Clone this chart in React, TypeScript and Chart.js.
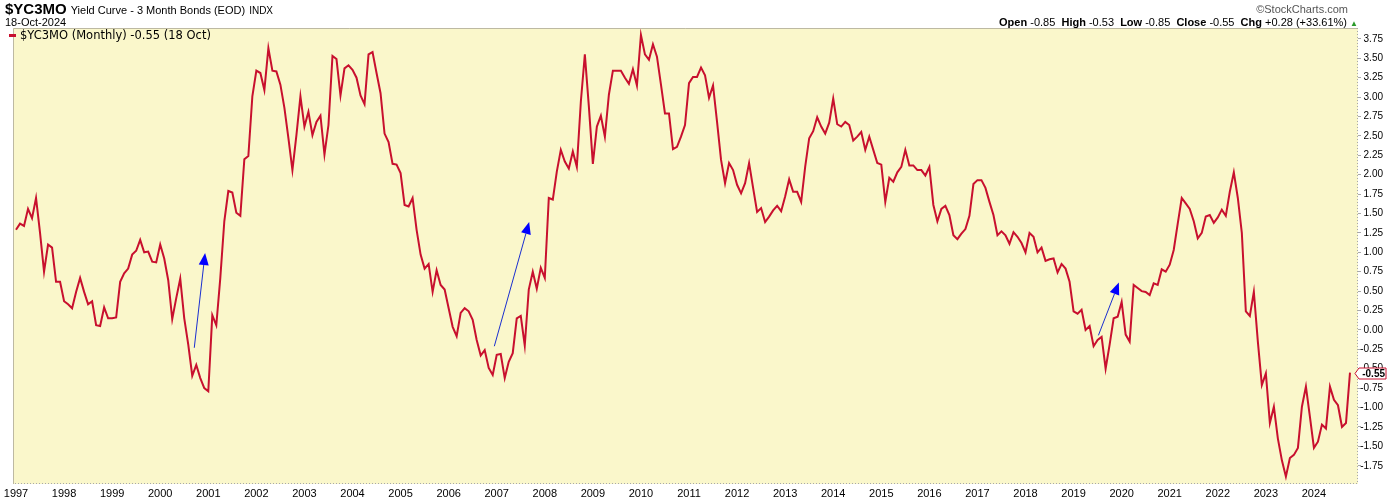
import React, { useEffect, useRef } from "react";
import { Chart, registerables } from "chart.js";

Chart.register(...registerables);

// ---- data (monthly close, Jan 1997 .. Oct 2024) ----
const yearLabels = [
  "1997", "1998", "1999", "2000", "2001", "2002", "2003", "2004", "2005", "2006",
  "2007", "2008", "2009", "2010", "2011", "2012", "2013", "2014", "2015", "2016",
  "2017", "2018", "2019", "2020", "2021", "2022", "2023", "2024",
];

const v1997 = [1.29, 1.37, 1.34, 1.56, 1.44, 1.70, 1.25, 0.75, 1.10, 1.06, 0.62, 0.62];
const v1998 = [0.37, 0.33, 0.28, 0.49, 0.67, 0.49, 0.33, 0.37, 0.06, 0.05, 0.29, 0.15];
const v1999 = [0.15, 0.16, 0.62, 0.73, 0.79, 0.97, 1.02, 1.16, 1.00, 1.01, 0.88, 0.87];
const v2000 = [1.10, 0.92, 0.64, 0.14, 0.41, 0.66, 0.15, -0.19, -0.59, -0.45, -0.62, -0.75];
const v2001 = [-0.79, 0.19, 0.06, 0.67, 1.40, 1.79, 1.77, 1.51, 1.47, 2.20, 2.24, 3.01];
const v2002 = [3.34, 3.31, 3.09, 3.63, 3.34, 3.33, 3.16, 2.86, 2.47, 2.06, 2.51, 3.01];
const v2003 = [2.62, 2.81, 2.51, 2.68, 2.76, 2.26, 2.64, 3.53, 3.49, 3.02, 3.37, 3.41];
const v2004 = [3.35, 3.25, 3.02, 2.91, 3.55, 3.58, 3.31, 3.05, 2.53, 2.42, 2.14, 2.13];
const v2005 = [2.02, 1.61, 1.59, 1.70, 1.29, 0.97, 0.79, 0.85, 0.49, 0.77, 0.58, 0.52];
const v2006 = [0.28, 0.04, -0.08, 0.22, 0.28, 0.24, 0.13, -0.13, -0.33, -0.26, -0.49, -0.58];
const v2007 = [-0.32, -0.31, -0.62, -0.41, -0.30, 0.15, 0.18, -0.20, 0.52, 0.75, 0.53, 0.80];
const v2008 = [0.67, 1.70, 1.68, 2.04, 2.32, 2.17, 2.08, 2.30, 2.10, 2.94, 3.55, 2.88];
const v2009 = [2.14, 2.62, 2.76, 2.49, 3.03, 3.34, 3.34, 3.34, 3.25, 3.17, 3.36, 3.15];
const v2010 = [3.80, 3.55, 3.48, 3.68, 3.52, 3.16, 2.79, 2.79, 2.33, 2.36, 2.49, 2.64];
const v2011 = [3.18, 3.26, 3.26, 3.38, 3.28, 2.99, 3.15, 2.68, 2.19, 1.89, 2.15, 2.06];
const v2012 = [1.87, 1.76, 1.89, 2.15, 1.83, 1.52, 1.57, 1.39, 1.46, 1.54, 1.60, 1.53];
const v2013 = [1.72, 1.94, 1.78, 1.78, 1.65, 2.10, 2.47, 2.56, 2.74, 2.62, 2.53, 2.67];
const v2014 = [2.98, 2.65, 2.62, 2.68, 2.64, 2.44, 2.49, 2.55, 2.32, 2.49, 2.32, 2.15];
const v2015 = [2.13, 1.65, 1.96, 1.91, 2.03, 2.10, 2.32, 2.12, 2.12, 2.06, 2.06, 1.99];
const v2016 = [2.10, 1.61, 1.40, 1.56, 1.60, 1.48, 1.22, 1.17, 1.24, 1.30, 1.47, 1.88];
const v2017 = [1.93, 1.93, 1.83, 1.65, 1.48, 1.22, 1.27, 1.22, 1.11, 1.26, 1.20, 1.12];
const v2018 = [1.00, 1.25, 1.20, 1.00, 1.06, 0.89, 0.91, 0.92, 0.74, 0.85, 0.79, 0.62];
const v2019 = [0.24, 0.21, 0.26, 0.00, 0.05, -0.21, -0.13, -0.09, -0.50, -0.19, 0.15, 0.17];
const v2020 = [0.36, -0.06, -0.15, 0.58, 0.54, 0.50, 0.49, 0.45, 0.60, 0.58, 0.78, 0.75];
const v2021 = [0.84, 1.03, 1.37, 1.70, 1.63, 1.56, 1.40, 1.18, 1.25, 1.46, 1.48, 1.38];
const v2022 = [1.45, 1.55, 1.47, 1.78, 2.03, 1.70, 1.25, 0.24, 0.18, 0.49, -0.15, -0.71];
const v2023 = [-0.56, -1.20, -0.99, -1.40, -1.68, -1.89, -1.65, -1.61, -1.52, -0.99, -0.73, -1.12];
const v2024 = [-1.52, -1.44, -1.22, -1.27, -0.73, -0.90, -0.97, -1.25, -1.20, -0.55];

const monthlyValues = [
  ...v1997, ...v1998, ...v1999, ...v2000, ...v2001, ...v2002, ...v2003,
  ...v2004, ...v2005, ...v2006, ...v2007, ...v2008, ...v2009, ...v2010,
  ...v2011, ...v2012, ...v2013, ...v2014, ...v2015, ...v2016, ...v2017,
  ...v2018, ...v2019, ...v2020, ...v2021, ...v2022, ...v2023, ...v2024,
];

const yTickValues = [
  3.75, 3.5, 3.25, 3.0, 2.75, 2.5, 2.25, 2.0, 1.75, 1.5, 1.25, 1.0, 0.75, 0.5,
  0.25, 0.0, -0.25, -0.5, -0.75, -1.0, -1.25, -1.5, -1.75,
];

// annotation arrows, in (month index, value) units
const arrowFrom = [
  { x: 44.5, y: -0.23 },
  { x: 119.4, y: -0.21 },
  { x: 270.2, y: -0.07 },
];
const arrowTo = [
  { x: 47.2, y: 0.99 },
  { x: 128.1, y: 1.39 },
  { x: 275.3, y: 0.61 },
];

const lastValueLabel = "-0.55";

const LINE_COLOR = "#c8102e";
const PLOT_BG = "#faf7cb";
const FONT = "'Liberation Sans', Arial, sans-serif";

export default function App() {
  const ref = useRef<HTMLCanvasElement>(null);

  useEffect(() => {
    const canvas = ref.current;
    if (!canvas) return;
    const points = monthlyValues.map((v, i) => ({ x: i, y: v }));

    const bgPlugin = {
      id: "plotBg",
      beforeDraw(chart: any) {
        const { ctx, chartArea: a } = chart;
        ctx.save();
        ctx.fillStyle = "#ffffff";
        ctx.fillRect(0, 0, chart.width, chart.height);
        ctx.fillStyle = PLOT_BG;
        ctx.fillRect(a.left, a.top, a.right - a.left, a.bottom - a.top);
        ctx.restore();
      },
    };

    const overlayPlugin = {
      id: "overlay",
      afterDatasetsDraw(chart: any) {
        const { ctx, chartArea: a, scales } = chart;
        const xs = scales.x;
        const ys = scales.y;
        ctx.save();
        // arrows
        ctx.strokeStyle = "#1a2fd0";
        ctx.fillStyle = "#0000ff";
        ctx.lineWidth = 1;
        for (let i = 0; i < arrowFrom.length; i++) {
          const sx = xs.getPixelForValue(arrowFrom[i].x);
          const sy = ys.getPixelForValue(arrowFrom[i].y);
          const tx = xs.getPixelForValue(arrowTo[i].x);
          const ty = ys.getPixelForValue(arrowTo[i].y);
          const ang = Math.atan2(ty - sy, tx - sx);
          const L = 12;
          const W = 5;
          const bx = tx - L * Math.cos(ang);
          const by = ty - L * Math.sin(ang);
          ctx.beginPath();
          ctx.moveTo(sx, sy);
          ctx.lineTo(bx, by);
          ctx.stroke();
          ctx.beginPath();
          ctx.moveTo(tx, ty);
          ctx.lineTo(bx - W * Math.sin(ang), by + W * Math.cos(ang));
          ctx.lineTo(bx + W * Math.sin(ang), by - W * Math.cos(ang));
          ctx.closePath();
          ctx.fill();
        }
        // plot border
        ctx.strokeStyle = "#bdb9a2";
        ctx.beginPath();
        ctx.moveTo(a.left + 0.5, a.bottom);
        ctx.lineTo(a.left + 0.5, a.top + 0.5);
        ctx.lineTo(a.right, a.top + 0.5);
        ctx.stroke();
        ctx.strokeStyle = "#a8a8a8";
        ctx.setLineDash([1, 2]);
        ctx.beginPath();
        ctx.moveTo(a.right - 0.5, a.top);
        ctx.lineTo(a.right - 0.5, a.bottom - 0.5);
        ctx.lineTo(a.left, a.bottom - 0.5);
        ctx.stroke();
        ctx.restore();
      },
      afterDraw(chart: any) {
        const { ctx, chartArea: a, scales } = chart;
        const ys = scales.y;
        const last = monthlyValues[monthlyValues.length - 1];
        const y = Math.round(ys.getPixelForValue(last)) + 0.5;
        const tip = a.right - 3;
        const bl = a.right + 1;
        const br = a.right + 28;
        const h = 5.5;
        ctx.save();
        ctx.beginPath();
        ctx.moveTo(tip, y);
        ctx.lineTo(bl, y - h);
        ctx.lineTo(br, y - h);
        ctx.lineTo(br, y + h);
        ctx.lineTo(bl, y + h);
        ctx.closePath();
        ctx.fillStyle = "#ffffff";
        ctx.fill();
        ctx.strokeStyle = LINE_COLOR;
        ctx.lineWidth = 1;
        ctx.stroke();
        ctx.fillStyle = "#000";
        ctx.font = "bold 10px " + FONT;
        ctx.textAlign = "right";
        ctx.textBaseline = "middle";
        ctx.fillText(lastValueLabel, br - 1, y + 0.5);
        ctx.restore();
      },
    };

    const chart = new Chart(canvas, {
      type: "line",
      data: {
        datasets: [
          {
            label: "$YC3MO (Monthly)",
            data: points,
            borderColor: LINE_COLOR,
            borderWidth: 2,
            pointRadius: 0,
            tension: 0,
            fill: false,
          },
        ],
      },
      options: {
        animation: false,
        responsive: false,
        devicePixelRatio: 1,
        parsing: false as any,
        normalized: true,
        layout: { padding: { left: 13, top: 28, right: 17, bottom: 0 } },
        plugins: {
          legend: { display: false },
          tooltip: { enabled: false },
          title: { display: false },
        },
        scales: {
          x: {
            type: "linear",
            min: -0.75,
            max: 335,
            afterBuildTicks: (s: any) => {
              s.ticks = yearLabels.map((_, i) => ({ value: i * 12 }));
            },
            afterFit: (s: any) => {
              s.height = 16;
            },
            grid: { display: false, drawTicks: false },
            border: { display: false },
            ticks: {
              autoSkip: false,
              maxRotation: 0,
              padding: 3,
              color: "#000",
              font: { size: 11, family: FONT },
              callback: (_v: any, i: number) => yearLabels[i],
            },
          },
          y: {
            position: "right",
            min: -1.985,
            max: 3.89,
            afterBuildTicks: (s: any) => {
              s.ticks = yTickValues.map((v) => ({ value: v }));
            },
            afterFit: (s: any) => {
              s.width = 25;
            },
            grid: {
              display: true,
              drawOnChartArea: false,
              drawTicks: true,
              tickLength: 3,
              color: "#a8a8a8",
            },
            border: { display: false },
            ticks: {
              crossAlign: "far",
              padding: 0,
              color: "#000",
              font: { size: 10, family: FONT },
              callback: (v: any) => Number(v).toFixed(2),
            },
          },
        },
      },
      plugins: [bgPlugin, overlayPlugin],
    } as any);

    return () => chart.destroy();
  }, []);

  return (
    <div
      style={{
        position: "absolute",
        left: 0,
        top: 0,
        width: 1400,
        height: 500,
        background: "#fff",
        fontFamily: FONT,
        color: "#000",
      }}
    >
      <canvas ref={ref} width={1400} height={500} style={{ position: "absolute", left: 0, top: 0, width: 1400, height: 500 }} />
      <div style={{ position: "absolute", left: 5, top: 1, whiteSpace: "nowrap", lineHeight: "16px" }}>
        <span style={{ fontWeight: "bold", fontSize: 15 }}>$YC3MO</span>
        <span style={{ fontSize: 11, marginLeft: 4 }}>Yield Curve - 3 Month Bonds (EOD)</span>
        <span style={{ fontSize: 10, marginLeft: 4 }}>INDX</span>
      </div>
      <div style={{ position: "absolute", left: 5, top: 16, fontSize: 11, lineHeight: "12px", whiteSpace: "nowrap" }}>
        18-Oct-2024
      </div>
      <div style={{ position: "absolute", right: 52, top: 3, fontSize: 11, lineHeight: "12px", color: "#555", whiteSpace: "nowrap" }}>
        ©StockCharts.com
      </div>
      <div style={{ position: "absolute", right: 42, top: 16, fontSize: 11, lineHeight: "12px", whiteSpace: "nowrap" }}>
        <b>Open</b> -0.85&nbsp; <b>High</b> -0.53&nbsp; <b>Low</b> -0.85&nbsp; <b>Close</b> -0.55&nbsp; <b>Chg</b> +0.28 (+33.61%){" "}
        <span style={{ color: "#2a9a2a", fontSize: 8 }}>▲</span>
      </div>
      <div
        style={{
          position: "absolute",
          left: 9,
          top: 29,
          display: "flex",
          alignItems: "center",
          whiteSpace: "nowrap",
          fontFamily: "'DejaVu Sans', Verdana, sans-serif",
          fontSize: 11.5,
          lineHeight: "12px",
        }}
      >
        <span style={{ display: "inline-block", width: 7, height: 3, background: LINE_COLOR, marginRight: 4 }} />
        <span>$YC3MO (Monthly) -0.55 (18 Oct)</span>
      </div>
    </div>
  );
}
